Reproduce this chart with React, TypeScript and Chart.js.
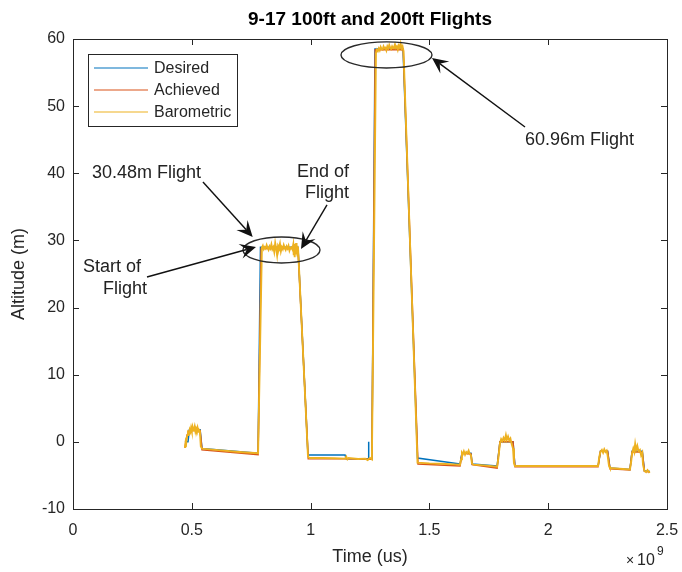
import React, { useEffect, useRef } from "react";
import { Chart, registerables } from "chart.js";
Chart.register(...registerables);

const FONT = '"Liberation Sans", Arial, Helvetica, sans-serif';
const TXT = "#262626";

// time values are in units of 1e9 microseconds (axis exponent x10^9)
const TIME_SCALE = 1e9;

const desiredTime = [0.471, 0.484, 0.49, 0.535, 0.543, 0.779, 0.789, 0.947, 0.989, 1.145, 1.15, 1.243, 1.244, 1.245, 1.258, 1.271, 1.389, 1.450, 1.629, 1.637, 1.675, 1.680, 1.785, 1.797, 1.852, 1.860, 2.210, 2.220, 2.250, 2.260, 2.344, 2.353, 2.396, 2.405, 2.428];
const desiredAlt = [0.0, 0.0, 1.8, 1.8, -1.0, -1.7, 29.0, 29.0, -1.95, -1.95, -2.5, -2.5, 0.0, -2.5, -2.5, 58.5, 58.5, -2.4, -3.3, -1.7, -1.7, -3.3, -3.6, 0.0, 0.0, -3.6, -3.6, -1.4, -1.4, -3.9, -4.1, -1.4, -1.4, -4.3, -4.4];

const achievedTime = [0.471, 0.48, 0.49, 0.535, 0.543, 0.779, 0.792, 0.947, 0.990, 1.145, 1.258, 1.272, 1.390, 1.452, 1.629, 1.637, 1.675, 1.680, 1.785, 1.797, 1.852, 1.860, 2.210, 2.220, 2.250, 2.260, 2.344, 2.353, 2.396, 2.405, 2.428];
const achievedAlt = [-0.9, 1.0, 1.7, 1.7, -1.2, -1.9, 28.8, 28.8, -2.5, -2.5, -2.6, 58.4, 58.4, -3.3, -3.6, -1.7, -1.8, -3.4, -3.9, 0.0, 0.0, -3.7, -3.7, -1.4, -1.4, -4.0, -4.2, -1.5, -1.5, -4.4, -4.5];

const barometricTime = [
  0.471, 0.473, 0.475, 0.478, 0.481, 0.484, 0.488, 0.491, 0.494, 0.497, 0.5, 0.503, 0.506, 0.509, 0.512, 0.515, 0.518, 0.521, 0.524, 0.527, 0.53, 0.534, 0.538, 0.543, 0.6, 0.7, 0.779,
  0.795, 0.799, 0.803, 0.807, 0.811, 0.815, 0.819, 0.823, 0.827, 0.831, 0.835, 0.839, 0.843, 0.847, 0.851, 0.855, 0.859, 0.863, 0.867, 0.871, 0.875, 0.879, 0.883, 0.887, 0.891, 0.895, 0.899, 0.903, 0.907, 0.911, 0.915, 0.919, 0.923, 0.927, 0.929, 0.931, 0.933, 0.935, 0.937, 0.939, 0.941, 0.943, 0.945, 0.947,
  0.989, 0.995, 1.05, 1.1, 1.145, 1.15, 1.155, 1.16, 1.2, 1.23, 1.24, 1.25, 1.258,
  1.275, 1.279, 1.283, 1.287, 1.291, 1.295, 1.299, 1.303, 1.307, 1.311, 1.315, 1.319, 1.323, 1.327, 1.331, 1.335, 1.339, 1.343, 1.347, 1.351, 1.355, 1.359, 1.363, 1.367, 1.371, 1.375, 1.379, 1.383, 1.387, 1.391,
  1.45, 1.5, 1.55, 1.6, 1.629,
  1.633, 1.637, 1.641, 1.645, 1.65, 1.655, 1.66, 1.665, 1.67, 1.675, 1.679, 1.685, 1.73, 1.785,
  1.79, 1.797, 1.802, 1.807, 1.812, 1.817, 1.822, 1.826, 1.831, 1.836, 1.841, 1.846, 1.852, 1.856, 1.86, 2.0, 2.1, 2.21,
  2.215, 2.22, 2.226, 2.231, 2.236, 2.241, 2.246, 2.25, 2.256, 2.26, 2.3, 2.344,
  2.349, 2.353, 2.358, 2.362, 2.366, 2.37, 2.375, 2.38, 2.386, 2.391, 2.396, 2.399, 2.405, 2.412, 2.418, 2.424, 2.428,
];
const barometricAlt = [
  -0.9, -0.3, -0.8, 0.4, 1.0, 1.4, 1.2, 1.8, 1.5, 2.1, 1.6, 2.2, 1.7, 1.9, 2.3, 1.6, 2.0, 1.7, 2.1, 1.5, 1.8, 1.6, -0.7, -1.0, -1.2, -1.5, -1.7,
  28.9, 29.2, 28.7, 29.0, 28.8, 29.3, 28.9, 28.6, 29.1, 28.8, 29.4, 28.7, 29.0, 28.3, 29.6, 28.8, 27.8, 29.2, 28.9, 29.5, 28.4, 29.0, 28.7, 29.3, 28.9, 28.6, 29.1, 28.8, 29.2, 28.5, 28.9, 29.0, 28.7, 29.4, 27.8, 29.5, 27.5, 29.3, 27.9, 29.6, 28.0, 29.2, 27.6, 29.0,
  -2.2, -2.4, -2.4, -2.45, -2.5, -2.2, -2.6, -2.4, -2.55, -2.5, -2.7, -2.4, -2.6,
  57.9, 58.4, 58.2, 58.6, 58.3, 58.8, 58.5, 58.4, 58.9, 58.6, 58.7, 58.3, 58.9, 58.6, 59.1, 58.7, 58.5, 58.9, 58.6, 58.8, 59.2, 58.7, 58.9, 58.4, 59.0, 58.7, 59.3, 58.6, 58.9, 58.2,
  -3.1, -3.2, -3.25, -3.35, -3.4,
  -2.6, -1.6, -1.8, -1.4, -1.9, -1.5, -1.7, -1.3, -1.8, -2.0, -3.2, -3.4, -3.5, -3.7,
  -2.5, -0.2, 0.4, 0.1, 0.6, 0.2, 1.0, 0.3, 0.8, 0.2, 0.5, -0.3, -1.0, -3.2, -3.6, -3.6, -3.6, -3.6,
  -2.2, -1.5, -1.2, -1.6, -1.1, -1.5, -1.3, -2.0, -3.6, -3.9, -4.0, -4.1,
  -3.0, -1.7, -1.0, -1.5, -0.3, -1.2, -0.6, -1.4, -1.2, -2.0, -1.6, -3.4, -4.3, -4.5, -4.2, -4.5, -4.4,
];

const xTicks = [0, 0.5, 1, 1.5, 2, 2.5];
const yTicks = [-10, 0, 10, 20, 30, 40, 50, 60];

const titleText = "9-17 100ft and 200ft Flights";
const xLabel = "Time (us)";
const yLabel = "Altitude (m)";

// annotations in data coordinates (time in 1e9 us, altitude m)
const ellipses = [
  { t: 0.8775, a: 28.58, rt: 0.162, ra: 1.94 },
  { t: 1.3194, a: 57.63, rt: 0.1915, ra: 1.94 },
];
const arrows = [
  { t0: 0.547, a0: 38.71, t1: 0.7563, a1: 30.52 },
  { t0: 1.069, a0: 35.28, t1: 0.9596, a1: 28.73 },
  { t0: 0.3114, a0: 24.56, t1: 0.7702, a1: 29.03 },
  { t0: 1.9024, a0: 46.9, t1: 1.5109, a1: 57.18 },
];
const notes = [
  { text: "30.48m Flight", t: 0.08, a: 40.05 },
  { text: "End of", t: 0.9428, a: 40.2 },
  { text: "Flight", t: 0.9764, a: 37.07 },
  { text: "Start of", t: 0.0421, a: 26.05 },
  { text: "Flight", t: 0.1263, a: 22.77 },
  { text: "60.96m Flight", t: 1.9024, a: 44.97 },
];

function pts(t: number[], a: number[]) {
  return t.map((v, i) => ({ x: v * TIME_SCALE, y: a[i] }));
}

const decorPlugin = {
  id: "decor",
  afterDraw(chart: any) {
    const ctx = chart.ctx as CanvasRenderingContext2D;
    const { left, right, top, bottom } = chart.chartArea;
    const xs = chart.scales.x;
    const ys = chart.scales.y;
    const X = (t: number) => xs.getPixelForValue(t * TIME_SCALE);
    const Y = (a: number) => ys.getPixelForValue(a);
    ctx.save();
    // box
    ctx.strokeStyle = TXT;
    ctx.lineWidth = 1;
    ctx.strokeRect(Math.round(left) + 0.5, Math.round(top) + 0.5, Math.round(right - left), Math.round(bottom - top));
    // inside ticks
    const tl = 6;
    ctx.beginPath();
    xTicks.forEach((v) => {
      const px = Math.round(X(v)) + 0.5;
      ctx.moveTo(px, bottom);
      ctx.lineTo(px, bottom - tl);
      ctx.moveTo(px, top);
      ctx.lineTo(px, top + tl);
    });
    yTicks.forEach((v) => {
      const py = Math.round(Y(v)) + 0.5;
      ctx.moveTo(left, py);
      ctx.lineTo(left + tl, py);
      ctx.moveTo(right, py);
      ctx.lineTo(right - tl, py);
    });
    ctx.stroke();

    // title
    ctx.fillStyle = "#000";
    ctx.font = `bold 19px ${FONT}`;
    ctx.textAlign = "center";
    ctx.textBaseline = "middle";
    ctx.fillText(titleText, (left + right) / 2, 20);

    // axis titles
    ctx.fillStyle = TXT;
    ctx.font = `18px ${FONT}`;
    ctx.fillText(xLabel, (left + right) / 2, 557);
    ctx.save();
    ctx.translate(19, (top + bottom) / 2);
    ctx.rotate(-Math.PI / 2);
    ctx.fillText(yLabel, 0, 0);
    ctx.restore();

    // exponent
    ctx.textAlign = "left";
    ctx.font = `14px ${FONT}`;
    ctx.fillText("\u00d7", 626, 561);
    ctx.font = `16px ${FONT}`;
    ctx.fillText("10", 637, 561);
    ctx.font = `12px ${FONT}`;
    ctx.fillText("9", 657, 552);

    // legend
    const lx = 88.5, ly = 54.5, lw = 149, lh = 72;
    ctx.fillStyle = "#fff";
    ctx.fillRect(lx, ly, lw, lh);
    ctx.strokeStyle = TXT;
    ctx.strokeRect(lx, ly, lw, lh);
    ctx.font = `16px ${FONT}`;
    ctx.textAlign = "left";
    ctx.textBaseline = "middle";
    chart.data.datasets.forEach((ds: any, i: number) => {
      const yy = 68 + i * 22;
      ctx.strokeStyle = ds.borderColor;
      ctx.lineWidth = 1.2;
      ctx.beginPath();
      ctx.moveTo(94, yy);
      ctx.lineTo(148, yy);
      ctx.stroke();
      ctx.fillStyle = TXT;
      ctx.fillText(ds.label, 154, yy + 1);
    });

    // ellipses
    ctx.strokeStyle = "#2a2a2a";
    ctx.lineWidth = 1.4;
    ellipses.forEach((e) => {
      const cx = X(e.t), cy = Y(e.a);
      const rx = Math.abs(X(e.t + e.rt) - cx), ry = Math.abs(Y(e.a + e.ra) - cy);
      ctx.beginPath();
      ctx.ellipse(cx, cy, rx, ry, 0, 0, Math.PI * 2);
      ctx.stroke();
    });

    // arrows
    arrows.forEach((ar) => {
      const x0 = X(ar.t0), y0 = Y(ar.a0), x1 = X(ar.t1), y1 = Y(ar.a1);
      const dx = x1 - x0, dy = y1 - y0;
      const len = Math.hypot(dx, dy);
      const ux = dx / len, uy = dy / len;
      const nx = -uy, ny = ux;
      const L = 16, W = 7.5;
      const bx = x1 - ux * L, by = y1 - uy * L;
      const notchX = x1 - ux * L * 0.6, notchY = y1 - uy * L * 0.6;
      ctx.strokeStyle = "#111";
      ctx.lineWidth = 1.4;
      ctx.beginPath();
      ctx.moveTo(x0, y0);
      ctx.lineTo(notchX, notchY);
      ctx.stroke();
      ctx.fillStyle = "#111";
      ctx.beginPath();
      ctx.moveTo(x1, y1);
      ctx.lineTo(bx + nx * W, by + ny * W);
      ctx.lineTo(notchX, notchY);
      ctx.lineTo(bx - nx * W, by - ny * W);
      ctx.closePath();
      ctx.fill();
    });

    // notes
    ctx.fillStyle = "#222";
    ctx.font = `18px ${FONT}`;
    ctx.textAlign = "left";
    ctx.textBaseline = "middle";
    notes.forEach((n) => {
      ctx.fillText(n.text, X(n.t), Y(n.a));
    });
    ctx.restore();
  },
};

export default function App() {
  const ref = useRef<HTMLCanvasElement | null>(null);
  useEffect(() => {
    if (!ref.current) return;
    const chart = new Chart(ref.current, {
      type: "line",
      data: {
        datasets: [
          { label: "Desired", data: pts(desiredTime, desiredAlt), borderColor: "#0072BD", borderWidth: 1.5, pointRadius: 0, order: 2, tension: 0 },
          { label: "Achieved", data: pts(achievedTime, achievedAlt), borderColor: "#D95319", borderWidth: 1.5, pointRadius: 0, order: 1, tension: 0 },
          { label: "Barometric", data: pts(barometricTime, barometricAlt), borderColor: "#EDB120", borderWidth: 1.9, pointRadius: 0, order: 0, tension: 0 },
        ],
      },
      options: {
        animation: false,
        responsive: false,
        events: [],
        layout: { padding: { left: 0, right: 15, top: 39, bottom: 0 } },
        plugins: { legend: { display: false }, title: { display: false }, tooltip: { enabled: false } },
        scales: {
          x: {
            type: "linear",
            min: 0,
            max: 2.5 * TIME_SCALE,
            afterFit: (s: any) => { s.height = 63; s.paddingLeft = 0; s.paddingRight = 0; },
            afterBuildTicks: (s: any) => { s.ticks = xTicks.map((v) => ({ value: v * TIME_SCALE })); },
            grid: { display: false, drawTicks: false },
            border: { display: false },
            ticks: { padding: 12, color: TXT, font: { family: FONT, size: 16 }, maxRotation: 0, autoSkip: false, callback: (v: any) => String(Number(v) / TIME_SCALE) },
          },
          y: {
            type: "linear",
            min: -10,
            max: 60,
            afterFit: (s: any) => { s.width = 73; s.paddingTop = 0; s.paddingBottom = 0; },
            afterBuildTicks: (s: any) => { s.ticks = yTicks.map((v) => ({ value: v })); },
            grid: { display: false, drawTicks: false },
            border: { display: false },
            ticks: { padding: 8, color: TXT, font: { family: FONT, size: 16 }, autoSkip: false, callback: (v: any) => String(v) },
          },
        },
      },
      plugins: [decorPlugin],
    } as any);
    return () => chart.destroy();
  }, []);
  return (
    <div style={{ position: "fixed", left: 0, top: 0, width: 682, height: 572, background: "#fff" }}>
      <canvas ref={ref} width={682} height={572} />
    </div>
  );
}
